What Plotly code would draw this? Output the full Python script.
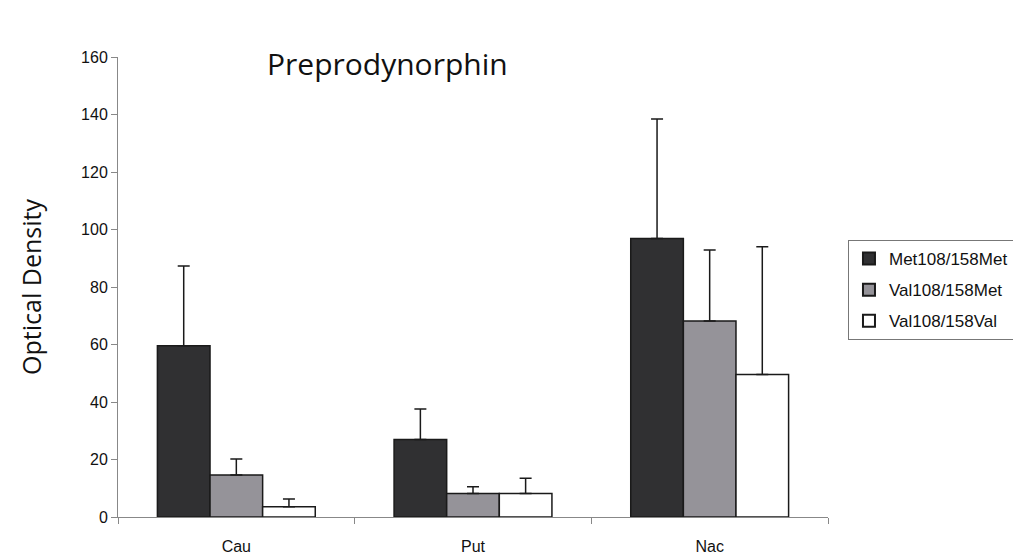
import plotly.graph_objects as go

categories = ["Cau", "Put", "Nac"]
series_names = ["Met108/158Met", "Val108/158Met", "Val108/158Val"]
met_met = [59.6, 27.0, 96.9]
val_met = [14.6, 8.2, 68.2]
val_val = [3.6, 8.2, 49.6]
met_met_err = [27.7, 10.6, 41.5]
val_met_err = [5.6, 2.3, 24.7]
val_val_err = [2.7, 5.3, 44.4]
y_ticks = [0, 20, 40, 60, 80, 100, 120, 140, 160]

colors = ["#303032", "#959399", "#ffffff"]
values = [met_met, val_met, val_val]
errors = [met_met_err, val_met_err, val_val_err]

fig = go.Figure()
for name, vals, errs, col in zip(series_names, values, errors, colors):
    fig.add_trace(go.Bar(
        x=categories, y=vals, name=name, legendgroup=name,
        marker=dict(color=col, line=dict(color="#1a1a1a", width=1.5)),
        error_y=dict(type="data", array=errs, symmetric=False,
                     arrayminus=[0] * len(errs),
                     color="#1a1a1a", thickness=1.5, width=6),
    ))

fig.update_layout(
    barmode="group", bargap=0.333, bargroupgap=0,
    width=1021, height=560,
    margin=dict(l=110, r=201, t=49, b=51, autoexpand=False),
    paper_bgcolor="white", plot_bgcolor="white",
    font=dict(family="Liberation Sans, Arial", color="#111111", size=14),
    showlegend=True,
    legend=dict(x=0.8227, y=0.5857, xref="container", yref="container",
                xanchor="left", yanchor="top",
                bordercolor="#777777", borderwidth=1,
                font=dict(size=17, family="Liberation Sans, Arial"),
                itemsizing="constant", tracegroupgap=6),
    annotations=[dict(text="Preprodynorphin", x=0.379, y=0.985,
                      xref="paper", yref="paper", showarrow=False,
                      xanchor="center", yanchor="middle",
                      font=dict(size=30, family="Open Sans", color="#111111"))],
)
fig.update_yaxes(range=[0, 160], tickvals=y_ticks, showgrid=False,
                 showline=True, linecolor="#888888", linewidth=1,
                 ticks="outside", ticklen=6, tickcolor="#888888",
                 tickfont=dict(size=16), zeroline=False,
                 title=dict(text="Optical Density",
                            font=dict(size=25, family="Open Sans"), standoff=32))
fig.update_xaxes(showgrid=False, showline=True, linecolor="#888888", linewidth=1,
                 ticks="outside", tickson="boundaries", ticklen=6,
                 tickcolor="#888888", tickfont=dict(size=16),
                 ticklabelstandoff=15)

fig.write_html("out.html")
